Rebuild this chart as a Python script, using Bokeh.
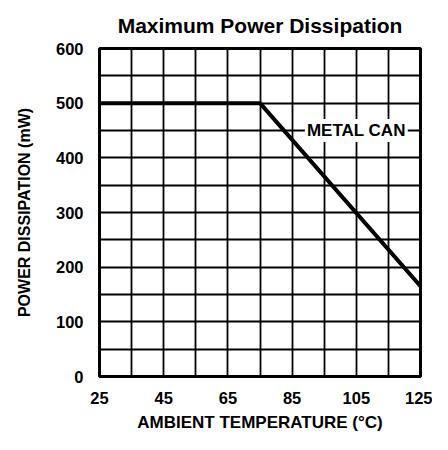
from bokeh.plotting import figure
from bokeh.models import FixedTicker, Label
from bokeh.embed import file_html
from bokeh.resources import INLINE

# data
temps = [25, 75, 125]
power = [500, 500, 165]
x_ticks = [25, 45, 65, 85, 105, 125]
y_ticks = [0, 100, 200, 300, 400, 500, 600]
x_grid = [25, 35, 45, 55, 65, 75, 85, 95, 105, 115, 125]
y_grid = [0, 50, 100, 150, 200, 250, 300, 350, 400, 450, 500, 550, 600]
curve_label = "METAL CAN"
label_pos = (105, 450)

FONT = "Liberation Sans"

p = figure(width=432, height=434, output_backend="svg", toolbar_location=None,
           x_range=(25, 125), y_range=(0, 600),
           min_border_left=99, min_border_right=12, min_border_top=48, min_border_bottom=56,
           title="Maximum Power Dissipation")
p.title.align = "center"
p.title.text_font = FONT
p.title.text_font_size = "21px"
p.title.text_font_style = "bold"
p.title.text_color = "black"
p.title.standoff = 23

p.outline_line_color = "black"
p.outline_line_width = 3
p.background_fill_color = "white"
p.border_fill_color = "white"

p.xgrid.ticker = FixedTicker(ticks=x_grid)
p.ygrid.ticker = FixedTicker(ticks=y_grid)
for g in (p.xgrid, p.ygrid):
    g.grid_line_color = "black"
    g.grid_line_width = 1.8
    g.grid_line_alpha = 1.0

p.xaxis.ticker = FixedTicker(ticks=x_ticks)
p.yaxis.ticker = FixedTicker(ticks=y_ticks)
for ax in (p.xaxis, p.yaxis):
    ax.axis_line_color = None
    ax.major_tick_line_color = None
    ax.minor_tick_line_color = None
    ax.major_tick_out = 0
    ax.major_tick_in = 0
    ax.major_label_text_font = FONT
    ax.major_label_text_font_style = "bold"
    ax.major_label_text_font_size = "16.5px"
    ax.major_label_text_color = "black"
    ax.axis_label_text_font = FONT
    ax.axis_label_text_font_style = "bold"
    ax.axis_label_text_color = "black"

p.xaxis.axis_label = "AMBIENT TEMPERATURE (°C)"
p.yaxis.axis_label = "POWER DISSIPATION (mW)"
p.xaxis.axis_label_text_font_size = "17px"
p.yaxis.axis_label_text_font_size = "16px"
p.xaxis.major_label_standoff = 15
p.yaxis.major_label_standoff = 16
p.xaxis.axis_label_standoff = 6
p.yaxis.axis_label_standoff = 20

p.line(temps, power, line_color="black", line_width=4)

p.add_layout(Label(x=label_pos[0], y=label_pos[1], text=curve_label,
                   text_align="center", text_baseline="middle",
                   text_font=FONT, text_font_style="bold", text_font_size="17px",
                   text_color="black", background_fill_color="white", padding=2))

open("out.html", "w").write(file_html(p, INLINE))
